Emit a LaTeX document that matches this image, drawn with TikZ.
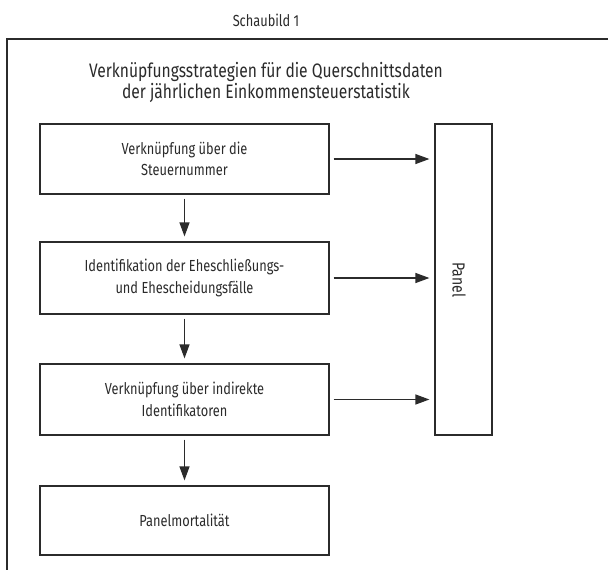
\documentclass[tikz,border=0pt]{standalone}
\usepackage{fontspec}
\setmainfont{Fira Sans}[FakeStretch=0.8]
\usetikzlibrary{arrows.meta}
\definecolor{ink}{HTML}{2B2B2B}
\tikzset{
  stepbox/.style={draw=ink, line width=1.2pt, minimum width=289pt, align=center, font=\fontsize{16}{21.5}\selectfont, text=ink, inner sep=0pt},
  flow/.style={draw=ink, line width=1.2pt, -{Triangle[length=14pt,width=10pt]}},
}
\begin{document}
\begin{tikzpicture}[x=1pt,y=-1pt]
\useasboundingbox (0,0) rectangle (608,570);
\clip (0,0) rectangle (608,570);
\fill[white] (0,0) rectangle (608,570);
\draw[ink, line width=2pt] (620,39) -- (7,39) -- (7,590);
\node[anchor=base, font=\fontsize{16}{19}\selectfont, text=ink] (cap) at (266,27) {Schaubild 1};
\node[anchor=base, font=\fontsize{19.5}{22}\selectfont, text=ink] (t1) at (266,77) {Verknüpfungsstrategien für die Querschnittsdaten};
\node[anchor=base, font=\fontsize{19.5}{22}\selectfont, text=ink] (t2) at (266,98) {der jährlichen Einkommensteuerstatistik};
\node[stepbox, minimum height=70pt] (b1) at (184.5,159) {Verknüpfung über die\\Steuernummer};
\node[stepbox, minimum height=72pt] (b2) at (184.5,278) {Identifikation der Eheschließungs-\\und Ehescheidungsfälle};
\node[stepbox, minimum height=71pt] (b3) at (184.5,399.5) {Verknüpfung über indirekte\\Identifikatoren};
\node[stepbox, minimum height=69pt] (b4) at (184.5,520.5) {Panelmortalität};
\node[draw=ink, line width=1.2pt, minimum width=57pt, minimum height=311pt, inner sep=0pt] (panel) at (463.5,279.5) {};
\node[rotate=-90, font=\fontsize{17.5}{20}\selectfont, text=ink] (plabel) at (459,280) {Panel};
\draw[flow, shorten <=4pt, shorten >=5pt] (b1.east) -- (b1.east -| panel.west);
\draw[flow, shorten <=4pt, shorten >=5pt] (b2.east) -- (b2.east -| panel.west);
\draw[flow, shorten <=4pt, shorten >=5pt] (b3.east) -- (b3.east -| panel.west);
\draw[flow, shorten <=4pt, shorten >=5pt] (b1.south) -- (b2.north);
\draw[flow, shorten <=4pt, shorten >=5pt] (b2.south) -- (b3.north);
\draw[flow, shorten <=4pt, shorten >=5pt] (b3.south) -- (b4.north);
\end{tikzpicture}
\end{document}
